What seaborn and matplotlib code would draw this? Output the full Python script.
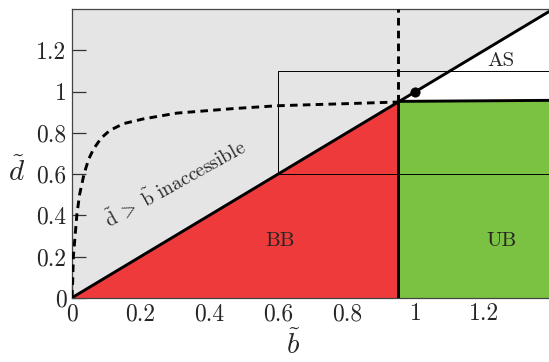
import numpy as np
import pandas as pd
import matplotlib
matplotlib.use("Agg")
import matplotlib.pyplot as plt
import seaborn as sns

# ---- data ----
x_max = 1.389
y_max = 1.4
b_crit = 0.95
diag_x = [0.0, x_max]
diag_y = [0.0, x_max]
ub_top_x = [0.95, x_max]
ub_top_y = [0.953, 0.958]
curve_x = [0.0, 0.002, 0.004, 0.009, 0.014, 0.022, 0.035, 0.048, 0.062, 0.085, 0.11, 0.15, 0.208, 0.305, 0.47, 0.6, 0.8, 0.95]
curve_y = [0.0, 0.08, 0.2, 0.3, 0.4, 0.5, 0.6, 0.67, 0.72, 0.775, 0.812, 0.845, 0.868, 0.896, 0.918, 0.932, 0.942, 0.95]
box_x = [0.6, 0.6, x_max]
box_y = [0.6, 1.1, 1.1]
hline_x = [0.6, x_max]
hline_y = [0.6, 0.6]
vsolid_x = [b_crit, b_crit]
vsolid_y = [0.0, b_crit]
vdash_x = [b_crit, b_crit]
vdash_y = [b_crit, y_max]
dot_x = [1.0]
dot_y = [1.0]
xticks = [0, 0.2, 0.4, 0.6, 0.8, 1.0, 1.2]
xticklabels = ["0", "0.2", "0.4", "0.6", "0.8", "1", "1.2"]
yticks = [0, 0.2, 0.4, 0.6, 0.8, 1.0, 1.2]
yticklabels = ["0", "0.2", "0.4", "0.6", "0.8", "1", "1.2"]
region_labels = ["BB", "UB", "AS"]
region_x = [0.605, 1.25, 1.25]
region_y = [0.275, 0.275, 1.15]

sns.set_theme(style="ticks")
plt.rcParams["font.family"] = ["cmr10", "DejaVu Serif"]
plt.rcParams["mathtext.fontset"] = "cm"
plt.rcParams["axes.unicode_minus"] = False

fig = plt.figure(figsize=(5.49, 3.62), dpi=100)
ax = fig.add_axes([72 / 549, (362 - 297.7) / 362, (549 - 72) / 549, (297.7 - 9.3) / 362])

gray = "#e5e5e5"
red = "#ee3a3a"
green = "#7cc242"

xs = np.array(diag_x)
ax.fill_between(xs, xs, y_max, color=gray, lw=0, zorder=0)
ax.fill([0, b_crit, b_crit], [0, 0, b_crit], color=red, lw=0, zorder=1)
ax.fill_between(ub_top_x, 0, ub_top_y, color=green, lw=0, zorder=1)

lw_thick = 2.1
dash = (0, (2.6, 1.8))
common = dict(ax=ax, color="black", sort=False, estimator=None, errorbar=None)
sns.lineplot(x=diag_x, y=diag_y, lw=lw_thick, zorder=4, **common)
sns.lineplot(x=ub_top_x, y=ub_top_y, lw=lw_thick, zorder=4, **common)
sns.lineplot(x=vsolid_x, y=vsolid_y, lw=lw_thick, zorder=4, **common)
sns.lineplot(x=vdash_x, y=vdash_y, lw=lw_thick, linestyle=dash, zorder=4, **common)
sns.lineplot(x=curve_x, y=curve_y, lw=lw_thick, linestyle=dash, zorder=4, **common)
sns.lineplot(x=box_x, y=box_y, lw=0.7, zorder=3, **common)
sns.lineplot(x=hline_x, y=hline_y, lw=0.7, zorder=3, **common)
sns.scatterplot(x=dot_x, y=dot_y, ax=ax, color="black", s=45, zorder=5, edgecolor="black")

for lab, x, y in zip(region_labels, region_x, region_y):
    ax.text(x, y, lab, ha="center", va="center", fontsize=15, zorder=6)

ax.text(0.3, 0.555, r"$\tilde{\mathrm{d}}\;>\;\tilde{\mathrm{b}}$ inaccessible", rotation=29,
        ha="center", va="center", fontsize=14, rotation_mode="anchor", zorder=6)

ax.set_xlim(0, x_max)
ax.set_ylim(0, y_max)
ax.set_xticks(xticks)
ax.set_xticklabels(xticklabels)
ax.set_yticks(yticks)
ax.set_yticklabels(yticklabels)
ax.tick_params(direction="in", length=10, width=0.9, labelsize=17, color="#333333", pad=4)
for s in ["left", "bottom", "top"]:
    ax.spines[s].set_color("#444444")
    ax.spines[s].set_linewidth(0.9)
ax.spines["right"].set_visible(False)

ax.set_xlabel(r"$\tilde{b}$", fontsize=21, va="center", ha="center")
ax.set_ylabel(r"$\tilde{d}$", fontsize=21, rotation=0, va="center", ha="center")
ax.xaxis.set_label_coords((293 - 72) / (549 - 72), -(345 - 297.7) / 288.4)
ax.yaxis.set_label_coords(-(72 - 17) / 477, (297.7 - 172) / 288.4)

fig.savefig("out.png", dpi=100)
